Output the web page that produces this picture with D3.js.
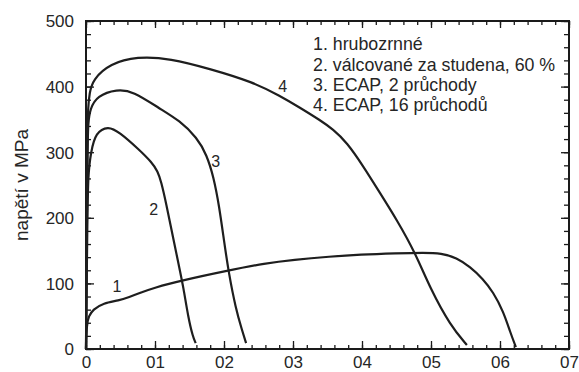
<!DOCTYPE html>
<html>
<head>
<meta charset="utf-8">
<script src="https://cdn.jsdelivr.net/npm/d3@7"></script>
<style>
  body { margin: 0; background: #fff; }
  svg { display: block; }
  text { font-family: Arial, "Liberation Sans", Helvetica, sans-serif; fill: #262626; }
</style>
</head>
<body>
<svg id="chart" width="579" height="372"></svg>
<script>
// Tick values and their printed labels
const xTicks = [0, 0.1, 0.2, 0.3, 0.4, 0.5, 0.6, 0.7];
const xTickLabels = ["0", "01", "02", "03", "04", "05", "06", "07"];
const yTicks = [0, 100, 200, 300, 400, 500];
const yTickLabels = ["0", "100", "200", "300", "400", "500"];

// Stress-strain curves: strain (x) and stress in MPa (y)
const curve1X = [0, 0.001, 0.004, 0.01, 0.025, 0.048, 0.062, 0.08, 0.097, 0.141, 0.203, 0.261, 0.3, 0.354, 0.397, 0.45, 0.49, 0.515, 0.537, 0.557, 0.575, 0.59, 0.605, 0.615, 0.623];
const curve1Y = [0, 38, 50, 60, 70, 74, 79, 86, 93, 105, 119, 131, 136, 141, 144, 146, 147, 146, 139, 125, 107, 87, 57, 25, 3];

const curve2X = [0, 0.002, 0.003, 0.007, 0.014, 0.032, 0.048, 0.077, 0.095, 0.104, 0.109, 0.116, 0.126, 0.135, 0.141, 0.148, 0.155, 0.159];
const curve2Y = [0, 200, 265, 300, 330, 340, 331, 304, 285, 271, 255, 223, 171, 125, 95, 49, 18, 9];

const curve3X = [0, 0.002, 0.003, 0.006, 0.016, 0.045, 0.068, 0.106, 0.136, 0.161, 0.175, 0.185, 0.193, 0.2, 0.207, 0.217, 0.226, 0.232];
const curve3Y = [0, 300, 345, 366, 386, 396, 393, 367, 348, 322, 296, 262, 218, 165, 115, 62, 29, 9];

const curve4X = [0, 0.002, 0.003, 0.005, 0.01, 0.035, 0.074, 0.122, 0.18, 0.242, 0.281, 0.31, 0.339, 0.358, 0.378, 0.401, 0.426, 0.451, 0.477, 0.499, 0.528, 0.552];
const curve4Y = [0, 330, 368, 390, 411, 435, 446, 443, 427, 407, 386, 368, 349, 335, 315, 280, 238, 196, 147, 92, 36, 6];

// Curve numbers placed next to each curve
const curveLabels = ["1", "2", "3", "4"];
const curveLabelX = [0.045, 0.098, 0.188, 0.285];
const curveLabelY = [95, 213, 286, 400];

// Legend entries
const legendItems = [
  "1. hrubozrnné",
  "2. válcované za studena, 60 %",
  "3. ECAP, 2 průchody",
  "4. ECAP, 16 průchodů"
];

const yTitle = "napětí v MPa";

const svg = d3.select("#chart");
const plotLeft = 86, plotRight = 569, plotTop = 21, plotBottom = 349;

const x = d3.scaleLinear().domain([0, 0.7]).range([plotLeft, plotRight]);
const y = d3.scaleLinear().domain([0, 500]).range([plotBottom, plotTop]);

const minorX = d3.range(0, 0.7001, 0.02).map(v => +v.toFixed(3));
const minorY = d3.range(0, 501, 20);

const axisColor = "#1a1a1a";

function styleAxis(g) {
  g.select(".domain").remove();
  g.selectAll(".tick line").attr("stroke", axisColor).attr("stroke-width", 1.3);
}

// Minor ticks (inward) on all four sides
svg.append("g").attr("transform", `translate(0,${plotBottom})`)
  .call(d3.axisBottom(x).tickValues(minorX).tickSize(-4).tickFormat(""))
  .call(styleAxis);
svg.append("g").attr("transform", `translate(0,${plotTop})`)
  .call(d3.axisTop(x).tickValues(minorX).tickSize(-4).tickFormat(""))
  .call(styleAxis);
svg.append("g").attr("transform", `translate(${plotLeft},0)`)
  .call(d3.axisLeft(y).tickValues(minorY).tickSize(-5).tickFormat(""))
  .call(styleAxis);
svg.append("g").attr("transform", `translate(${plotRight},0)`)
  .call(d3.axisRight(y).tickValues(minorY).tickSize(-5).tickFormat(""))
  .call(styleAxis);

// Major ticks with labels
const xAxis = svg.append("g").attr("transform", `translate(0,${plotBottom})`)
  .call(d3.axisBottom(x).tickValues(xTicks).tickSize(-8).tickPadding(0)
    .tickFormat((d, i) => xTickLabels[i]))
  .call(styleAxis);
xAxis.selectAll(".tick text")
  .attr("y", 13).attr("dy", "0.35em")
  .attr("font-size", 17).attr("fill", "#262626");

const yAxis = svg.append("g").attr("transform", `translate(${plotLeft},0)`)
  .call(d3.axisLeft(y).tickValues(yTicks).tickSize(-8).tickPadding(0)
    .tickFormat((d, i) => yTickLabels[i]))
  .call(styleAxis);
yAxis.selectAll(".tick text")
  .attr("x", -12).attr("dy", "0.35em")
  .attr("font-size", 17).attr("fill", "#262626");

svg.append("g").attr("transform", `translate(0,${plotTop})`)
  .call(d3.axisTop(x).tickValues(xTicks).tickSize(-7).tickFormat(""))
  .call(styleAxis);
svg.append("g").attr("transform", `translate(${plotRight},0)`)
  .call(d3.axisRight(y).tickValues(yTicks).tickSize(-8).tickFormat(""))
  .call(styleAxis);

// Frame
svg.append("rect")
  .attr("x", plotLeft).attr("y", plotTop)
  .attr("width", plotRight - plotLeft).attr("height", plotBottom - plotTop)
  .attr("fill", "none").attr("stroke", axisColor).attr("stroke-width", 2);

// Curves (B-spline smoothing through the read-off points)
const line = d3.line()
  .x(d => x(d[0]))
  .y(d => y(d[1]))
  .curve(d3.curveBasis);

const curves = [
  [curve1X, curve1Y],
  [curve2X, curve2Y],
  [curve3X, curve3Y],
  [curve4X, curve4Y]
];

svg.append("g").selectAll("path")
  .data(curves)
  .join("path")
  .attr("d", c => line(c[0].map((v, i) => [v, c[1][i]])))
  .attr("fill", "none")
  .attr("stroke", "#1e1e1e")
  .attr("stroke-width", 2.2)
  .attr("stroke-linejoin", "round");

// Curve numbers
svg.append("g").selectAll("text")
  .data(curveLabels)
  .join("text")
  .attr("x", (d, i) => x(curveLabelX[i]))
  .attr("y", (d, i) => y(curveLabelY[i]))
  .attr("text-anchor", "middle")
  .attr("dy", "0.35em")
  .attr("font-size", 16)
  .text(d => d);

// Legend
svg.append("g").selectAll("text")
  .data(legendItems)
  .join("text")
  .attr("x", 313)
  .attr("y", (d, i) => 44 + i * 20.3)
  .attr("dy", "0.35em")
  .attr("font-size", 17.8)
  .text(d => d);

// Y axis title
svg.append("text")
  .attr("transform", `translate(21,${(plotTop + plotBottom) / 2}) rotate(-90)`)
  .attr("text-anchor", "middle")
  .attr("dy", "0.35em")
  .attr("font-size", 19)
  .text(yTitle);
</script>
</body>
</html>
